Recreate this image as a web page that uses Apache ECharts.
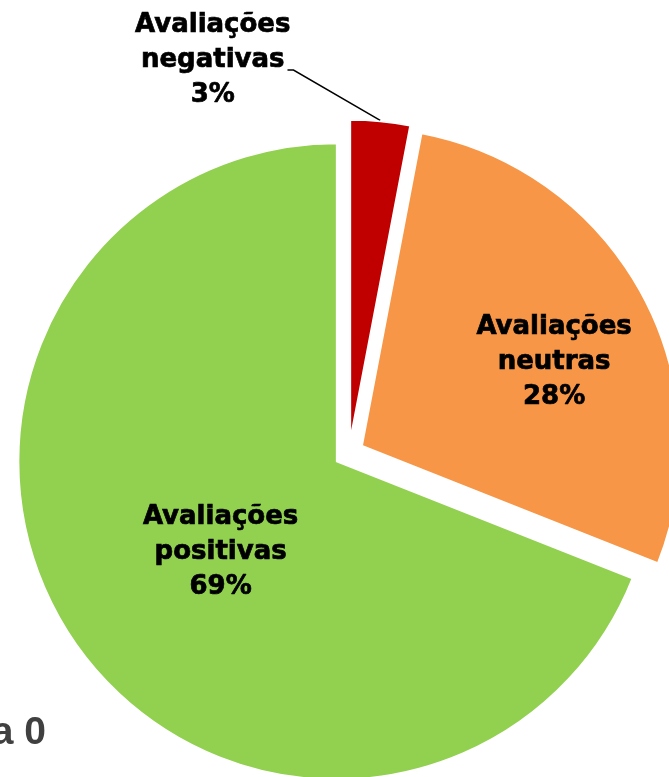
<!DOCTYPE html>
<html>
<head>
<meta charset="utf-8">
<script src="https://cdn.jsdelivr.net/npm/echarts@6/dist/echarts.min.js"></script>
<style>
  html, body { margin: 0; padding: 0; background: #fff; }
  #chart { width: 669px; height: 777px; }
</style>
</head>
<body>
<div id="chart"></div>
<script>
// slice order is clockwise from 12 o'clock
const categories = ['Avaliações negativas', 'Avaliações neutras', 'Avaliações positivas']
const values = [3, 28, 69]
const sliceColors = ['#C00000', '#F79646', '#92D050']

const footText = 'a 0'

const chart = echarts.init(document.getElementById('chart'))

const labelFont = {
  color: '#000',
  fontFamily: 'DejaVu Sans',
  fontWeight: 'bold',
  fontSize: 26,
  lineHeight: 35,
  textBorderColor: '#000',
  textBorderWidth: 0.7,
}

const data = categories.map((name, i) => {
  const item = {
    name,
    value: values[i],
    selected: true,
    itemStyle: { color: sliceColors[i] },
  }
  if (i === 0) {
    // the thin slice gets its label outside with a leader line
    item.label = { position: 'outside' }
    item.labelLine = {
      show: true,
      length: 10,
      length2: 6,
      lineStyle: { color: '#000', width: 1.5 },
    }
  }
  return item
})

// where the outside label should sit (centre of the text block)
const outLabelX = 211
const outLabelY = 58

chart.setOption({
  animation: false,
  backgroundColor: '#fff',
  graphic: [
    {
      type: 'text',
      x: 46,
      y: 733,
      style: {
        text: footText,
        textAlign: 'right',
        textVerticalAlign: 'middle',
        fill: '#404040',
        font: 'bold 39px "Liberation Sans"',
      },
    },
  ],
  series: [
    {
      type: 'pie',
      center: [349, 453],
      radius: [0, 318],
      startAngle: 90,
      clockwise: true,
      selectedMode: 'multiple',
      selectedOffset: 15,
      avoidLabelOverlap: false,
      emphasis: { disabled: true },
      itemStyle: { borderColor: '#fff', borderWidth: 1.5 },
      label: {
        show: true,
        position: 'inside',
        formatter: (p) => p.name.replace(' ', '\n') + '\n' + p.percent + '%',
        ...labelFont,
      },
      labelLine: { show: false },
      labelLayout: (params) => {
        if (params.dataIndex === 0) {
          const r = params.labelRect
          const s = params.rect
          const right = outLabelX + r.width / 2
          // guide line points are in the slice's own frame (before the select offset)
          return {
            align: 'center',
            dx: outLabelX - r.x,
            dy: outLabelY + 17 - (r.y + r.height / 2),
            labelLinePoints: [
              [s.x + s.width * 0.5, s.y + 1],
              [right + 3, outLabelY + 27],
              [right - 3, outLabelY + 27],
            ],
          }
        }
        if (params.dataIndex === 1) return { dx: 50, dy: -5 }
        return { dx: 18, dy: 0 }
      },
      data,
    },
  ],
})
</script>
</body>
</html>
